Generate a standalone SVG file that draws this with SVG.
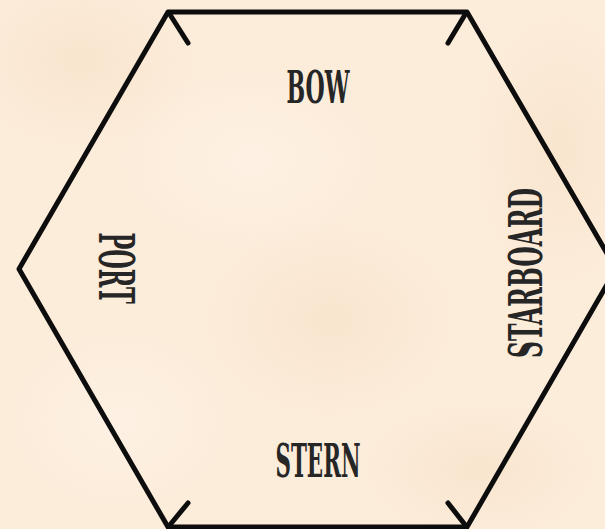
<svg xmlns="http://www.w3.org/2000/svg" width="605" height="529" viewBox="0 0 605 529">
<style>
.edge{fill:none;stroke:#0d0d0d;stroke-width:5;stroke-linejoin:round;stroke-linecap:round}
.lbl{font-family:"DejaVu Serif Condensed","DejaVu Serif",serif;font-weight:bold;fill:#262626;text-anchor:middle}
</style>
<defs>
<radialGradient id="b1" cx="0.5" cy="0.5" r="0.5"><stop offset="0" stop-color="#f6dfc3" stop-opacity="0.5"/><stop offset="1" stop-color="#f6dfc3" stop-opacity="0"/></radialGradient>
<radialGradient id="b2" cx="0.5" cy="0.5" r="0.5"><stop offset="0" stop-color="#fff5ea" stop-opacity="0.6"/><stop offset="1" stop-color="#fff5ea" stop-opacity="0"/></radialGradient>
</defs>
<rect width="605" height="529" fill="#fcecda"/>
<ellipse cx="80" cy="60" rx="120" ry="90" fill="url(#b1)"/>
<ellipse cx="560" cy="150" rx="90" ry="140" fill="url(#b1)"/>
<ellipse cx="330" cy="320" rx="130" ry="100" fill="url(#b1)"/>
<ellipse cx="480" cy="470" rx="120" ry="70" fill="url(#b1)"/>
<ellipse cx="250" cy="160" rx="130" ry="90" fill="url(#b2)"/>
<ellipse cx="120" cy="420" rx="110" ry="90" fill="url(#b2)"/>
<g id="connectors">
<path class="edge" d="M168,12 L467,12 L616,269 L467,527 L168,527 L19,269 Z"/>
<path class="edge" d="M169,13 L188,43"/>
<path class="edge" d="M466,13 L448,43"/>
<path class="edge" d="M169,526 L188,503"/>
<path class="edge" d="M466,526 L448,503"/>
</g>
<g id="bow"><text class="lbl" x="318" y="103" font-size="45" textLength="63" lengthAdjust="spacingAndGlyphs">BOW</text></g>
<g id="port"><text class="lbl" transform="translate(117,268) rotate(90)" x="0" y="18" font-size="49" textLength="71" lengthAdjust="spacingAndGlyphs">PORT</text></g>
<g id="starboard"><text class="lbl" transform="translate(525,273) rotate(-90)" x="0" y="17" font-size="46" textLength="170" lengthAdjust="spacingAndGlyphs">STARBOARD</text></g>
<g id="stern"><text class="lbl" x="318" y="477" font-size="46" textLength="85" lengthAdjust="spacingAndGlyphs">STERN</text></g>
</svg>
